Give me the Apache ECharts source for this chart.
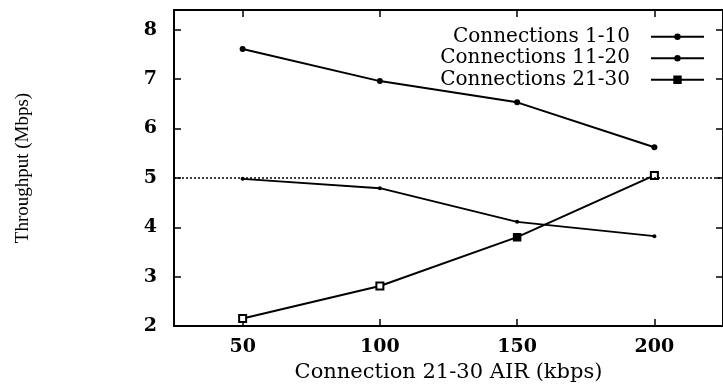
<!DOCTYPE html>
<html>
<head>
<meta charset="utf-8">
<script src="https://cdn.jsdelivr.net/npm/echarts@6/dist/echarts.min.js"></script>
<style>
  html, body { margin: 0; padding: 0; background: #fff; }
  #chart { width: 723px; height: 388px; }
</style>
</head>
<body>
<div id="chart"></div>
<script>
// Offered load of connections 21-30 (kbps)
const airValues = [50, 100, 150, 200];
// Throughput per connection group (Mbps)
const conn1to10 = [7.61, 6.96, 6.53, 5.62];
const conn11to20 = [4.98, 4.79, 4.11, 3.82];
const conn21to30 = [2.15, 2.81, 3.80, 5.05];
// Reference level (Mbps)
const referenceLevel = 5;
// Tick labels
const xTicks = [50, 100, 150, 200];
const yTicks = [2, 3, 4, 5, 6, 7, 8];

const serifWide = '"DejaVu Serif", serif';
const serifNarrow = '"Liberation Serif", "Times New Roman", serif';

const pairs = (ys) => airValues.map((x, i) => [x, ys[i]]);

const chart = echarts.init(document.getElementById('chart'), null, { renderer: 'canvas' });

const axisLine = { show: true, lineStyle: { color: '#000', width: 2 } };
const tickStyle = { show: true, inside: true, length: 7, lineStyle: { color: '#000', width: 1.5 } };
const labelFont = { fontFamily: serifWide, fontSize: 19, fontWeight: 'bold', color: '#000' };

chart.setOption({
  animation: false,
  backgroundColor: '#fff',
  grid: { left: 174, top: 10, width: 557.5, height: 316, containLabel: false },
  legend: {
    orient: 'vertical',
    right: 13,
    top: 21,
    align: 'right',
    itemWidth: 53,
    itemHeight: 8,
    itemGap: 0,
    textStyle: { fontFamily: serifWide, fontSize: 20, color: '#000', lineHeight: 21.5, padding: [0, 16, 0, 0] },
    data: ['Connections 1-10', 'Connections 11-20', 'Connections 21-30']
  },
  xAxis: [
    {
      type: 'value', position: 'bottom', min: 25, max: 225,
      name: 'Connection 21-30 AIR (kbps)', nameLocation: 'middle', nameGap: 27,
      nameTextStyle: { fontFamily: serifWide, fontSize: 21, color: '#000' },
      axisLine: axisLine,
      axisTick: Object.assign({ customValues: xTicks }, tickStyle),
      axisLabel: Object.assign({ customValues: xTicks, margin: 12 }, labelFont),
      splitLine: { show: false }
    },
    {
      type: 'value', position: 'top', min: 25, max: 225,
      axisLine: axisLine,
      axisTick: Object.assign({ customValues: xTicks }, tickStyle),
      axisLabel: { show: false },
      splitLine: { show: false }
    }
  ],
  yAxis: [
    {
      type: 'value', position: 'left', min: 2, max: 8.4,
      name: 'Throughput (Mbps)', nameLocation: 'middle', nameGap: 141,
      nameTextStyle: { fontFamily: serifNarrow, fontSize: 19, color: '#000' },
      axisLine: axisLine,
      axisTick: Object.assign({ customValues: yTicks }, tickStyle),
      axisLabel: Object.assign({ customValues: yTicks, margin: 17 }, labelFont),
      splitLine: { show: false }
    },
    {
      type: 'value', position: 'right', min: 2, max: 8.4,
      axisLine: axisLine,
      axisTick: Object.assign({ customValues: yTicks }, tickStyle),
      axisLabel: { show: false },
      splitLine: { show: false }
    }
  ],
  series: [
    {
      name: 'Connections 1-10', type: 'line', data: pairs(conn1to10),
      symbol: 'circle', symbolSize: 6,
      lineStyle: { color: '#000', width: 2 },
      itemStyle: { color: '#000' },
      markLine: {
        silent: true, symbol: 'none', label: { show: false },
        lineStyle: { color: '#000', type: [2, 2], width: 1.5 },
        data: [{ yAxis: referenceLevel }]
      }
    },
    {
      name: 'Connections 11-20', type: 'line', data: pairs(conn11to20),
      symbol: 'circle', symbolSize: 4,
      lineStyle: { color: '#000', width: 1.8 },
      itemStyle: { color: '#000' }
    },
    {
      name: 'Connections 21-30', type: 'line',
      data: pairs(conn21to30).map((p, i) => ({
        value: p,
        symbol: i === 2 ? 'rect' : 'emptyRect'
      })),
      symbol: 'rect', symbolSize: 7,
      lineStyle: { color: '#000', width: 2 },
      itemStyle: { color: '#000', borderColor: '#000', borderWidth: 1.5 }
    }
  ]
});
</script>
</body>
</html>
